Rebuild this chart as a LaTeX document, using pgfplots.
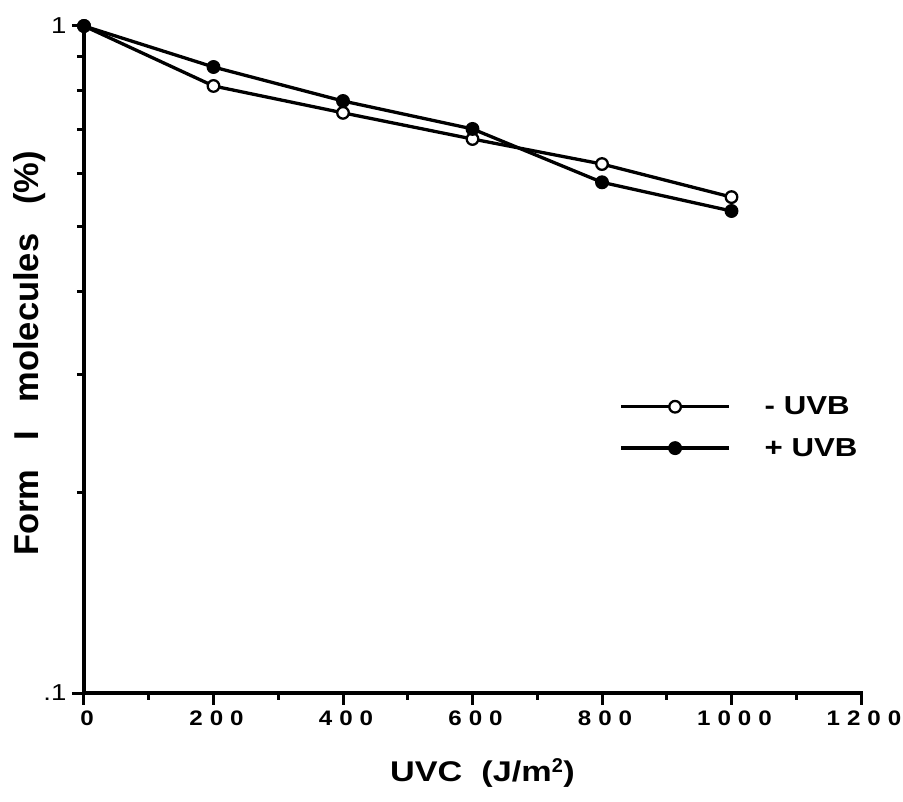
\documentclass[border=0pt]{standalone}
\usepackage{fontspec}
\setmainfont{Liberation Sans}
\newfontfamily\widefont[FakeStretch=1.2]{Liberation Sans}
\newfontfamily\spacedfont[FakeStretch=1.15,LetterSpace=33]{Liberation Sans}
\usepackage{pgfplots}
\pgfplotsset{compat=1.18}

\begin{document}
\begin{tikzpicture}
\begin{axis}[
  scale only axis,
  width=777pt, height=667pt,
  ymode=log,
  xmin=0, xmax=1200, ymin=0.1, ymax=1,
  axis lines*=left,
  axis line style={line width=3.3pt, line cap=rect},
  tick align=outside,
  xtick={0,200,400,600,800,1000,1200},
  xticklabels={0,200,400,600,800,1000,1200},
  minor xtick={100,300,500,700,900,1100},
  ytick={0.1,1},
  yticklabels={.1,1},
  minor ytick={0.2,0.3,0.4,0.5,0.6,0.7,0.8,0.9},
  major tick length=12pt, minor tick length=7pt,
  major tick style={black, line width=3pt},
  minor tick style={black, line width=3pt},
  xticklabel style={font=\spacedfont\bfseries\fontsize{21}{25}\selectfont, xshift=3pt, yshift=-2pt},
  yticklabel style={font=\widefont\fontsize{23}{27}\selectfont, xshift=-2pt},
  xlabel={UVC\ \ (J/m$^{\mathbf{2}}$)},
  ylabel={Form\ \ \ I\ \ \ molecules\ \ \ (\%)},
  xlabel style={font=\widefont\bfseries\fontsize{28.5}{34}\selectfont,
    at={(axis description cs:0.5,0)}, anchor=center, yshift=-80pt, xshift=10pt},
  ylabel style={font=\bfseries\fontsize{34.5}{40}\selectfont,
    at={(axis description cs:0,0.5)}, anchor=center, yshift=54pt, xshift=6pt},
  legend image code/.code={\draw[mark repeat=2,mark phase=2,#1] plot coordinates {(0pt,0pt) (54pt,0pt) (108pt,0pt)};},
  legend style={draw=none, fill=none, at={(axis description cs:0.685,0.45)}, anchor=north west,
    font=\widefont\bfseries\fontsize{26}{30}\selectfont, row sep=18pt,
    /tikz/every odd column/.append style={column sep=32pt}},
  legend cell align=left,
]
\addplot[black, line width=3.3pt, mark=*, mark size=5.8pt, mark options={fill=white, line width=2.3pt}]
  coordinates {(0,1) (200,0.813) (400,0.741) (600,0.677) (800,0.621) (1000,0.554)};
\addlegendentry{- UVB}
\addplot[black, line width=3.3pt, mark=*, mark size=5.8pt, mark options={fill=black, line width=2.3pt}]
  coordinates {(0,1) (200,0.868) (400,0.772) (600,0.701) (800,0.583) (1000,0.528)};
\addlegendentry{+ UVB}
\end{axis}
\pgfresetboundingbox
\path ([xshift=-84pt,yshift=-109pt]current axis.south west) rectangle ([xshift=42pt,yshift=26pt]current axis.north east);
\end{tikzpicture}
\end{document}
